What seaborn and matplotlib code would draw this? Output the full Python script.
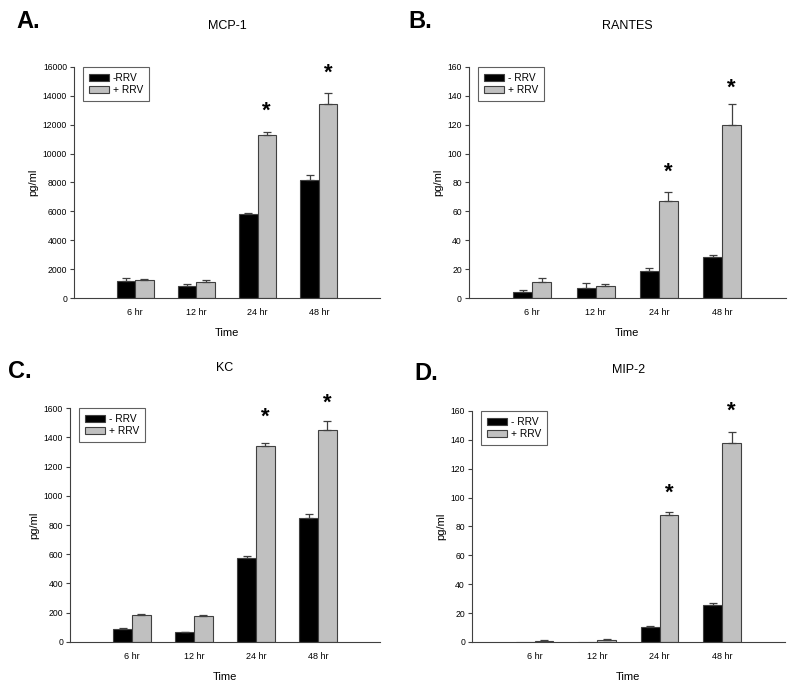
import numpy as np
import pandas as pd
import matplotlib
matplotlib.use('Agg')
import matplotlib.pyplot as plt
import seaborn as sns

# DATA
times = ['6 hr', '12 hr', '24 hr', '48 hr']

# MCP-1
mcp1_neg = [1180, 850, 5820, 8150]
mcp1_neg_sem = [230, 90, 90, 350]
mcp1_pos = [1225, 1110, 11310, 13440]
mcp1_pos_sem = [115, 160, 210, 785]
mcp1_star = [12900, 15550]

# RANTES
rantes_neg = [4.1, 6.9, 18.4, 28.1]
rantes_neg_sem = [1.7, 3.5, 2.3, 1.6]
rantes_pos = [10.8, 8.1, 67.2, 119.7]
rantes_pos_sem = [2.8, 1.4, 6.0, 14.3]
rantes_star = [87, 145]

# KC
kc_neg = [89, 66, 577, 850]
kc_neg_sem = [9, 5, 11, 27]
kc_pos = [187, 175, 1338, 1452]
kc_pos_sem = [7, 7, 25, 61]
kc_star = [1535, 1635]

# MIP-2
mip2_neg = [0, 0, 10.4, 25.8]
mip2_neg_sem = [0, 0, 0.7, 1.2]
mip2_pos = [0.7, 1.2, 87.8, 137.6]
mip2_pos_sem = [0.7, 0.9, 2.1, 7.6]
mip2_star = [103, 160]

plt.rcParams['font.family'] = ['Liberation Sans', 'DejaVu Sans']

fig = plt.figure(figsize=(8, 6.94), dpi=100)

EDGE = '#404040'


def draw_panel(rect, letter, letter_xy, title, neg, neg_sem, pos, pos_sem,
               star_y, ymax, ystep, labels):
    ax = fig.add_axes(rect)
    df = pd.DataFrame({
        'time': times * 2,
        'group': [labels[0]] * 4 + [labels[1]] * 4,
        'value': neg + pos,
    })
    sns.barplot(data=df, x='time', y='value', hue='group',
                palette=['black', '#c0c0c0'], saturation=1, width=0.6,
                errorbar=None, edgecolor=EDGE, linewidth=0.8, ax=ax)

    # upper-only error bars
    for cont, sems in zip(ax.containers, [neg_sem, pos_sem]):
        for bar, s in zip(cont, sems):
            if s <= 0:
                continue
            x = bar.get_x() + bar.get_width() / 2
            h = bar.get_height()
            ax.errorbar(x, h, yerr=[[0], [s]], fmt='none', ecolor=EDGE,
                        elinewidth=0.9, capsize=3, capthick=0.9)

    # significance stars over 24 hr and 48 hr
    gray = ax.containers[1]
    for bar, sy in zip(list(gray)[2:], star_y):
        x = bar.get_x() + bar.get_width() / 2
        ax.text(x, sy, '*', ha='center', va='center', fontsize=16,
                fontweight='bold', clip_on=False)

    ax.set_xlim(-1, 4)
    ax.set_ylim(0, ymax)
    ax.set_yticks(np.arange(0, ymax + 1, ystep))
    ax.tick_params(axis='x', length=0, labelsize=6.5, pad=7)
    ax.tick_params(axis='y', length=3, width=0.8, color=EDGE, labelsize=6.2, pad=2)
    sns.despine(ax=ax)
    for sp in ['left', 'bottom']:
        ax.spines[sp].set_color(EDGE)
        ax.spines[sp].set_linewidth(0.8)
    ax.set_xlabel('Time', fontsize=8, labelpad=8)
    ax.set_ylabel('pg/ml', fontsize=8, labelpad=3)
    ax.set_title(title, fontsize=9, pad=27)

    leg = ax.legend(loc='upper left', bbox_to_anchor=(0.03, 1.0),
                    borderaxespad=0, fontsize=7.3, fancybox=False,
                    edgecolor='#606060', framealpha=1, handlelength=1.9,
                    handleheight=0.6, handletextpad=0.4, borderpad=0.6,
                    labelspacing=0.2)
    leg.get_frame().set_linewidth(0.8)

    fig.text(letter_xy[0], letter_xy[1], letter, fontsize=17,
             fontweight='bold', va='center', ha='left')
    return ax


draw_panel([0.0925, 0.5706, 0.3825, 0.333], 'A.', (0.021, 1 - 22 / 694),
           'MCP-1', mcp1_neg, mcp1_neg_sem, mcp1_pos, mcp1_pos_sem,
           mcp1_star, 16000, 2000, ['-RRV', '+ RRV'])
draw_panel([0.586, 0.5706, 0.396, 0.333], 'B.', (0.51, 1 - 21 / 694),
           'RANTES', rantes_neg, rantes_neg_sem, rantes_pos, rantes_pos_sem,
           rantes_star, 160, 20, ['- RRV', '+ RRV'])
draw_panel([0.0875, 0.075, 0.3875, 0.337], 'C.', (0.010, 1 - 371 / 694),
           'KC', kc_neg, kc_neg_sem, kc_pos, kc_pos_sem,
           kc_star, 1600, 200, ['- RRV', '+ RRV'])
draw_panel([0.59, 0.075, 0.391, 0.333], 'D.', (0.518, 1 - 373 / 694),
           'MIP-2', mip2_neg, mip2_neg_sem, mip2_pos, mip2_pos_sem,
           mip2_star, 160, 20, ['- RRV', '+ RRV'])

fig.savefig('out.png', dpi=100)
